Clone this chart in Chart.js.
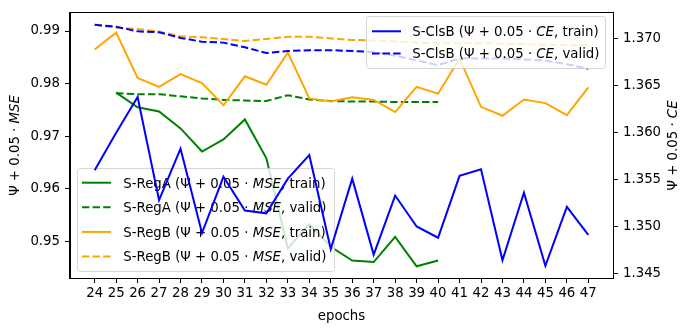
<!DOCTYPE html>
<html>
<head>
<meta charset="utf-8">
<script src="https://cdn.jsdelivr.net/npm/chart.js"></script>
<style>
  html, body { margin: 0; padding: 0; background: #fff; }
  #wrap { width: 691px; height: 332px; }
</style>
</head>
<body>
<div id="wrap"><canvas id="lossChart" width="691" height="332"></canvas></div>
<script>
// epochs on the x axis
const epochs = [24, 25, 26, 27, 28, 29, 30, 31, 32, 33, 34, 35, 36, 37, 38, 39, 40, 41, 42, 43, 44, 45, 46, 47];
const regAEpochs = [25, 26, 27, 28, 29, 30, 31, 32, 33, 34, 35, 36, 37, 38, 39, 40];

// left axis: Psi + 0.05*MSE
const regATrain = [0.9783, 0.9755, 0.9747, 0.9715, 0.9671, 0.9694, 0.9732, 0.9658, 0.9487, 0.9533, 0.9490, 0.9464, 0.9461, 0.9509, 0.9453, 0.9464];
const regAValid = [0.9782, 0.9780, 0.9780, 0.9776, 0.9772, 0.9769, 0.9768, 0.9767, 0.9778, 0.9770, 0.9767, 0.9766, 0.9766, 0.9765, 0.9765, 0.9765];
const regBTrain = [0.9865, 0.9897, 0.9811, 0.9794, 0.9818, 0.9801, 0.9759, 0.9814, 0.9798, 0.9859, 0.9772, 0.9766, 0.9774, 0.9769, 0.9746, 0.9794, 0.9781, 0.9848, 0.9756, 0.9739, 0.9770, 0.9763, 0.9740, 0.9793];
const regBValid = [0.9912, 0.9906, 0.9904, 0.9899, 0.9890, 0.9888, 0.9885, 0.9881, 0.9885, 0.9889, 0.9889, 0.9886, 0.9883, 0.9882, 0.9880, 0.9878, 0.9877, 0.9877, 0.9877, 0.9876, 0.9875, 0.9874, 0.9873, 0.9873];

// right axis: Psi + 0.05*CE
const clsBTrain = [1.3560, 1.3600, 1.3638, 1.3528, 1.3583, 1.3493, 1.3553, 1.3517, 1.3514, 1.3551, 1.3576, 1.3476, 1.3551, 1.3470, 1.3533, 1.3500, 1.3488, 1.3554, 1.3561, 1.3464, 1.3536, 1.3458, 1.3521, 1.3491];
const clsBValid = [1.3715, 1.3713, 1.3708, 1.3707, 1.3701, 1.3697, 1.3696, 1.3691, 1.3685, 1.3687, 1.3688, 1.3688, 1.3687, 1.3686, 1.3682, 1.3677, 1.3672, 1.3679, 1.3679, 1.3679, 1.3678, 1.3677, 1.3673, 1.3668];

const leftTicks = [0.95, 0.96, 0.97, 0.98, 0.99];
const rightTicks = [1.345, 1.350, 1.355, 1.360, 1.365, 1.370];

const FONT = '"DejaVu Sans", sans-serif';
const FS = 13.3;
const GREEN = '#008000', ORANGE = '#ffa500', BLUE = '#0000ff';
const LW = 2;
const DASH = [7.4, 3.2];

function pts(xs, ys) {
  return xs.map((x, i) => ({ x: x, y: ys[i] }));
}

function line(label, xs, ys, color, dashed, axis, order) {
  return {
    label: label,
    data: pts(xs, ys),
    borderColor: color,
    backgroundColor: color,
    borderWidth: LW,
    borderDash: dashed ? DASH : [],
    pointRadius: 0,
    tension: 0,
    fill: false,
    yAxisID: axis,
    order: order
  };
}

// text with italic pieces, parts = [[text, italic], ...]
function richWidth(ctx, parts) {
  let w = 0;
  parts.forEach(p => {
    ctx.font = (p[1] ? 'italic ' : '') + FS + 'px ' + FONT;
    w += ctx.measureText(p[0]).width;
  });
  return w;
}

function drawRich(ctx, parts, x, y) {
  parts.forEach(p => {
    ctx.font = (p[1] ? 'italic ' : '') + FS + 'px ' + FONT;
    ctx.fillText(p[0], x, y);
    x += ctx.measureText(p[0]).width;
  });
}

function drawLegend(ctx, box, entries) {
  ctx.save();
  ctx.beginPath();
  ctx.roundRect(box.x, box.y, box.w, box.h, 3);
  ctx.fillStyle = 'rgba(255,255,255,0.8)';
  ctx.fill();
  ctx.strokeStyle = 'rgba(204,204,204,0.8)';
  ctx.lineWidth = 1;
  ctx.stroke();
  entries.forEach((e, i) => {
    const cy = box.row0 + i * box.step;
    ctx.beginPath();
    ctx.strokeStyle = e.color;
    ctx.lineWidth = LW;
    ctx.setLineDash(e.dashed ? DASH : []);
    ctx.moveTo(box.hx0, cy);
    ctx.lineTo(box.hx1, cy);
    ctx.stroke();
    ctx.setLineDash([]);
    ctx.fillStyle = '#000';
    ctx.textBaseline = 'alphabetic';
    ctx.textAlign = 'left';
    drawRich(ctx, e.parts, box.tx, cy + 4.8);
  });
  ctx.restore();
}

function mseLabel(name, split) {
  return [[name + ' (\u03a8 + 0.05 \u00b7 ', false], ['MSE', true], [', ' + split + ')', false]];
}
function ceLabel(name, split) {
  return [[name + ' (\u03a8 + 0.05 \u00b7 ', false], ['CE', true], [', ' + split + ')', false]];
}

const decorations = {
  id: 'decorations',
  afterDatasetDraw(chart, args) {
    // lower-left legend sits above the left-axis lines, below the right-axis lines
    if (args.index !== 3) return;
    drawLegend(chart.ctx, {
      x: 77.5, y: 168.5, w: 257, h: 103,
      row0: 182.7, step: 24.6, hx0: 82, hx1: 111, tx: 123.3
    }, [
      { color: GREEN, dashed: false, parts: mseLabel('S-RegA', 'train') },
      { color: GREEN, dashed: true, parts: mseLabel('S-RegA', 'valid') },
      { color: ORANGE, dashed: false, parts: mseLabel('S-RegB', 'train') },
      { color: ORANGE, dashed: true, parts: mseLabel('S-RegB', 'valid') }
    ]);
  },
  afterDatasetsDraw(chart) {
    drawLegend(chart.ctx, {
      x: 366.5, y: 16.5, w: 239, h: 52,
      row0: 31.3, step: 22.2, hx0: 372, hx1: 401, tx: 412.3
    }, [
      { color: BLUE, dashed: false, parts: ceLabel('S-ClsB', 'train') },
      { color: BLUE, dashed: true, parts: ceLabel('S-ClsB', 'valid') }
    ]);
  },
  afterDraw(chart) {
    const ctx = chart.ctx;
    const a = chart.chartArea;
    ctx.save();
    ctx.strokeStyle = '#000';
    ctx.lineWidth = 1;
    ctx.strokeRect(Math.round(a.left) - 0.5, Math.round(a.top) - 0.5,
      Math.round(a.right - a.left) + 1, Math.round(a.bottom - a.top) + 1);

    ctx.fillStyle = '#000';
    ctx.textBaseline = 'middle';
    const midY = (a.top + a.bottom) / 2;

    const leftTitle = [['\u03a8 + 0.05 \u00b7 ', false], ['MSE', true]];
    ctx.save();
    ctx.translate(16, midY);
    ctx.rotate(-Math.PI / 2);
    drawRich(ctx, leftTitle, -richWidth(ctx, leftTitle) / 2, 0);
    ctx.restore();

    const rightTitle = [['\u03a8 + 0.05 \u00b7 ', false], ['CE', true]];
    ctx.save();
    ctx.translate(673.5, midY);
    ctx.rotate(-Math.PI / 2);
    drawRich(ctx, rightTitle, -richWidth(ctx, rightTitle) / 2, 0);
    ctx.restore();

    ctx.font = FS + 'px ' + FONT;
    ctx.textAlign = 'center';
    ctx.textBaseline = 'alphabetic';
    ctx.fillText('epochs', (a.left + a.right) / 2, 319.5);
    ctx.restore();
  }
};

const tickFont = { family: FONT, size: FS };

new Chart(document.getElementById('lossChart'), {
  type: 'line',
  data: {
    datasets: [
      line('S-RegA train', regAEpochs, regATrain, GREEN, false, 'y', 6),
      line('S-RegA valid', regAEpochs, regAValid, GREEN, true, 'y', 5),
      line('S-RegB train', epochs, regBTrain, ORANGE, false, 'y', 4),
      line('S-RegB valid', epochs, regBValid, ORANGE, true, 'y', 3),
      line('S-ClsB train', epochs, clsBTrain, BLUE, false, 'y1', 2),
      line('S-ClsB valid', epochs, clsBValid, BLUE, true, 'y1', 1)
    ]
  },
  options: {
    responsive: false,
    animation: false,
    devicePixelRatio: 1,
    layout: { padding: { top: 9, left: 0, right: 0, bottom: 0 } },
    plugins: {
      legend: { display: false },
      tooltip: { enabled: false }
    },
    scales: {
      x: {
        type: 'linear',
        min: 22.85,
        max: 48.15,
        afterBuildTicks: function (scale) {
          scale.ticks = epochs.map(v => ({ value: v }));
        },
        afterFit: function (scale) { scale.height = 54; },
        ticks: {
          font: tickFont,
          color: '#000',
          padding: 3,
          autoSkip: false,
          maxRotation: 0,
          callback: v => String(v)
        },
        grid: { drawOnChartArea: false, drawTicks: true, tickLength: 5, color: '#000' },
        border: { color: '#000', width: 1 }
      },
      y: {
        position: 'left',
        min: 0.94307,
        max: 0.99343,
        afterBuildTicks: function (scale) {
          scale.ticks = leftTicks.map(v => ({ value: v }));
        },
        afterFit: function (scale) { scale.width = 70; },
        ticks: {
          font: tickFont,
          color: '#000',
          padding: 5,
          callback: v => Number(v).toFixed(2)
        },
        grid: { drawOnChartArea: false, drawTicks: true, tickLength: 5, color: '#000' },
        border: { color: '#000', width: 1 }
      },
      y1: {
        position: 'right',
        min: 1.34451,
        max: 1.37276,
        afterBuildTicks: function (scale) {
          scale.ticks = rightTicks.map(v => ({ value: v }));
        },
        afterFit: function (scale) { scale.width = 78; },
        ticks: {
          font: tickFont,
          color: '#000',
          padding: 5,
          callback: v => Number(v).toFixed(3)
        },
        grid: { drawOnChartArea: false, drawTicks: true, tickLength: 5, color: '#000' },
        border: { color: '#000', width: 1 }
      }
    }
  },
  plugins: [decorations]
});
</script>
</body>
</html>
